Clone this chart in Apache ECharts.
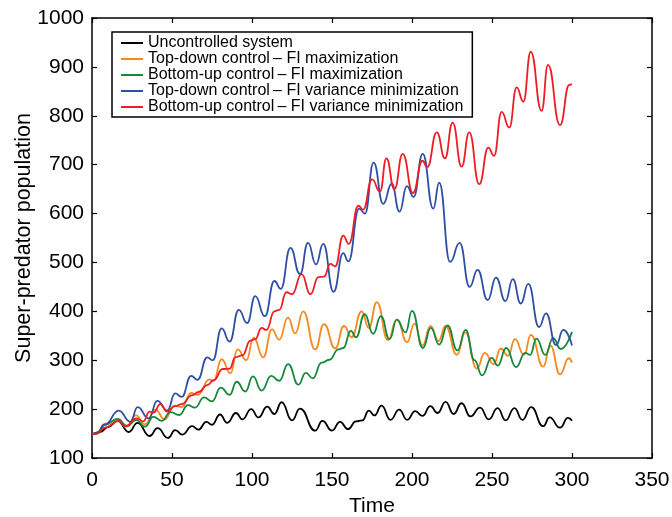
<!DOCTYPE html>
<html>
<head>
<meta charset="utf-8">
<script src="https://cdn.jsdelivr.net/npm/echarts@6/dist/echarts.min.js"></script>
<style>
  html, body { margin: 0; padding: 0; background: #fff; }
  #chart { width: 672px; height: 517px; }
</style>
</head>
<body>
<div id="chart"></div>
<script>
// series names (legend order)
var names = [
  "Uncontrolled system",
  "Top-down control\u2009\u2013 FI maximization",
  "Bottom-up control\u2009\u2013 FI maximization",
  "Top-down control\u2009\u2013 FI variance minimization",
  "Bottom-up control\u2009\u2013 FI variance minimization"
];
var colors = ["#000000", "#f7891f", "#17873b", "#2f4fa6", "#ee1d25"];

// x ticks / y ticks
var xTicks = [0, 50, 100, 150, 200, 250, 300, 350];
var yTicks = [100, 200, 300, 400, 500, 600, 700, 800, 900, 1000];

// uncontrolled system
var blackT = [0, 5, 10, 16, 23, 28.5, 36, 41, 47.5, 52, 56.5, 62.5, 66.5, 71.5, 75, 80, 84.5, 90, 94, 99.5, 104, 109.5, 114, 118.5, 125, 130, 139.5, 144, 150, 155, 160, 165, 169, 173, 176.5, 181, 186.5, 192, 197, 202, 206.5, 211.5, 216, 221, 226, 231, 236.5, 242.5, 248, 253.5, 258.5, 264, 269, 274.5, 282, 286, 292.5, 297.5, 300];
var blackV = [148, 153, 163, 176, 153, 172, 145, 161, 141, 157, 148, 165, 158, 174, 168, 189, 172, 192, 179, 200, 183, 205, 190, 214, 177, 201, 156, 176, 156, 174, 159, 175, 177, 197, 187, 207, 178, 199, 178, 196, 186, 206, 192, 215, 190, 212, 185, 203, 179, 202, 177, 202, 178, 204, 165, 183, 162, 182, 176];

// top-down control, FI maximization
var orangeT = [0, 3, 8, 16, 21.5, 27.5, 33, 39.5, 45.5, 51.5, 56, 62, 66, 73.5, 76, 81, 86.5, 91, 96.5, 101, 107, 112.5, 117, 122.5, 127, 132, 139.5, 145, 152, 157.5, 162.3, 168.5, 173, 178, 185, 190.5, 197, 201.5, 206.6, 211.5, 216.5, 221, 228, 233.4, 240.5, 245.5, 251, 255.5, 260, 264.3, 270, 274.3, 282, 286.5, 292.5, 298, 300];
var orangeV = [148, 150, 170, 178, 164, 187, 169, 199, 179, 207, 204, 233, 229, 261, 258, 302, 273, 322, 300, 346, 306, 363, 342, 387, 355, 400, 322, 374, 324, 370, 347, 400, 366, 419, 341, 383, 337, 375, 330, 370, 339, 370, 311, 357, 283, 315, 292, 324, 309, 343, 311, 352, 287, 330, 271, 304, 295];

// bottom-up control, FI maximization
var greenT = [0, 3, 8, 16, 22, 27.6, 33, 38.4, 43.7, 49, 54.5, 60, 64.4, 70, 75, 80.5, 86, 90.4, 95.8, 100.6, 106, 112, 117, 122.6, 129, 133.6, 138, 143.5, 148.4, 154, 157, 161.8, 165, 170.4, 175.7, 180.6, 186, 190.5, 196, 200, 206.8, 211.8, 217, 222.2, 228.4, 233.5, 239, 243.8, 249.8, 253.6, 258.9, 265, 270.8, 273.8, 277.8, 283.3, 288.2, 293, 300];
var greenV = [148, 150, 168, 180, 165, 178, 164, 184, 176, 194, 188, 208, 203, 224, 216, 244, 229, 256, 236, 267, 238, 268, 258, 292, 250, 274, 263, 295, 301, 322, 325, 360, 347, 394, 354, 390, 343, 383, 357, 401, 325, 366, 332, 371, 320, 362, 300, 269, 305, 289, 325, 286, 315, 311, 344, 311, 345, 323, 358];

// top-down control, FI variance minimization
var blueT = [0, 3, 8, 16.7, 24, 28.5, 35.5, 40.8, 47, 52, 56, 62, 66, 72, 75.5, 81, 86, 91.7, 97, 102, 108, 114, 118, 124, 130, 135, 140, 144.5, 151, 157, 160.2, 167, 170.6, 176, 182, 187.3, 192.2, 196.8, 201, 206.7, 213.3, 217, 223.8, 229.8, 236, 241, 247.3, 252.5, 258.4, 263, 268, 272.7, 279.4, 283.8, 290, 294.6, 300];
var blueV = [148, 152, 168, 197, 174, 204, 181, 217, 197, 232, 225, 268, 260, 306, 300, 365, 338, 403, 376, 431, 390, 462, 446, 530, 476, 540, 496, 538, 440, 519, 502, 610, 600, 704, 620, 661, 604, 656, 634, 722, 610, 663, 501, 540, 450, 485, 423, 469, 421, 466, 416, 456, 368, 396, 331, 362, 330];

// bottom-up control, FI variance minimization
var redT = [0, 3, 8, 16.7, 21, 28, 32, 36, 38.5, 42.7, 47, 52, 56, 62.5, 66.7, 72, 76, 81.7, 86, 89.6, 94, 99, 102, 106, 109, 114, 117, 121.5, 125, 131, 136.5, 141.5, 145, 149, 152, 157, 160.5, 166.5, 169.5, 175, 180, 184, 189, 194.2, 200.6, 206.5, 209.5, 215.5, 220.6, 225.4, 231, 235.8, 242, 247.7, 251.3, 256, 260.8, 265.4, 269.6, 274.2, 281, 285, 292.5, 298.3, 300];
var redV = [148, 150, 162, 176, 165, 181, 175, 195, 193, 210, 195, 206, 210, 228, 235, 249, 259, 282, 283, 306, 310, 340, 343, 366, 362, 400, 403, 439, 435, 476, 435, 470, 471, 497, 492, 555, 538, 616, 608, 670, 645, 713, 650, 722, 642, 708, 695, 766, 713, 786, 696, 766, 660, 735, 718, 808, 776, 858, 829, 931, 810, 904, 781, 863, 865];

function pairs(ts, vs) {
  return ts.map(function (t, i) { return [t, vs[i]]; });
}
var seriesData = [
  pairs(blackT, blackV),
  pairs(orangeT, orangeV),
  pairs(greenT, greenV),
  pairs(blueT, blueV),
  pairs(redT, redV)
];

var font = "'Liberation Sans', Arial, Helvetica, sans-serif";
var tick = { show: true, inside: true, length: 5, lineStyle: { color: "#000", width: 1.2 } };
var frame = { show: true, onZero: false, lineStyle: { color: "#000", width: 1.5 } };

var chart = echarts.init(document.getElementById("chart"));
chart.setOption({
  animation: false,
  backgroundColor: "#fff",
  grid: { left: 92, right: 20, top: 18, bottom: 59, outerBoundsMode: "none", containLabel: false },
  legend: {
    data: names,
    orient: "vertical",
    left: 112,
    top: 32,
    icon: "rect",
    itemWidth: 22,
    itemHeight: 2,
    itemGap: 0,
    padding: [3, 9, 2, 9],
    borderColor: "#000",
    borderWidth: 1.5,
    borderRadius: 0,
    textStyle: { color: "#000", fontFamily: font, fontSize: 16, lineHeight: 15.5 }
  },
  xAxis: [
    {
      type: "value",
      min: xTicks[0],
      max: xTicks[xTicks.length - 1],
      interval: 50,
      name: "Time",
      nameLocation: "middle",
      nameGap: 38,
      nameMoveOverlap: false,
      nameTextStyle: { color: "#000", fontFamily: font, fontSize: 21 },
      axisLine: frame,
      axisTick: tick,
      axisLabel: { color: "#000", fontFamily: font, fontSize: 21, margin: 12 },
      splitLine: { show: false }
    },
    {
      type: "value",
      position: "top",
      min: xTicks[0],
      max: xTicks[xTicks.length - 1],
      interval: 50,
      axisLine: frame,
      axisTick: tick,
      axisLabel: { show: false },
      splitLine: { show: false }
    }
  ],
  yAxis: [
    {
      type: "value",
      min: yTicks[0],
      max: yTicks[yTicks.length - 1],
      interval: 100,
      name: "Super-predator population",
      nameLocation: "middle",
      nameGap: 57,
      nameMoveOverlap: false,
      nameTextStyle: { color: "#000", fontFamily: font, fontSize: 21.5 },
      axisLine: frame,
      axisTick: tick,
      axisLabel: {
        color: "#000", fontFamily: font, fontSize: 21, margin: 8,
        formatter: function (v) { return String(v); }
      },
      splitLine: { show: false }
    },
    {
      type: "value",
      position: "right",
      min: yTicks[0],
      max: yTicks[yTicks.length - 1],
      interval: 100,
      axisLine: frame,
      axisTick: tick,
      axisLabel: { show: false },
      splitLine: { show: false }
    }
  ],
  series: names.map(function (n, i) {
    return {
      name: n,
      type: "line",
      xAxisIndex: 0,
      yAxisIndex: 0,
      data: seriesData[i],
      symbol: "none",
      smooth: 0.5,
      smoothMonotone: "x",
      color: colors[i],
      lineStyle: { color: colors[i], width: 1.8 }
    };
  })
});
</script>
</body>
</html>
